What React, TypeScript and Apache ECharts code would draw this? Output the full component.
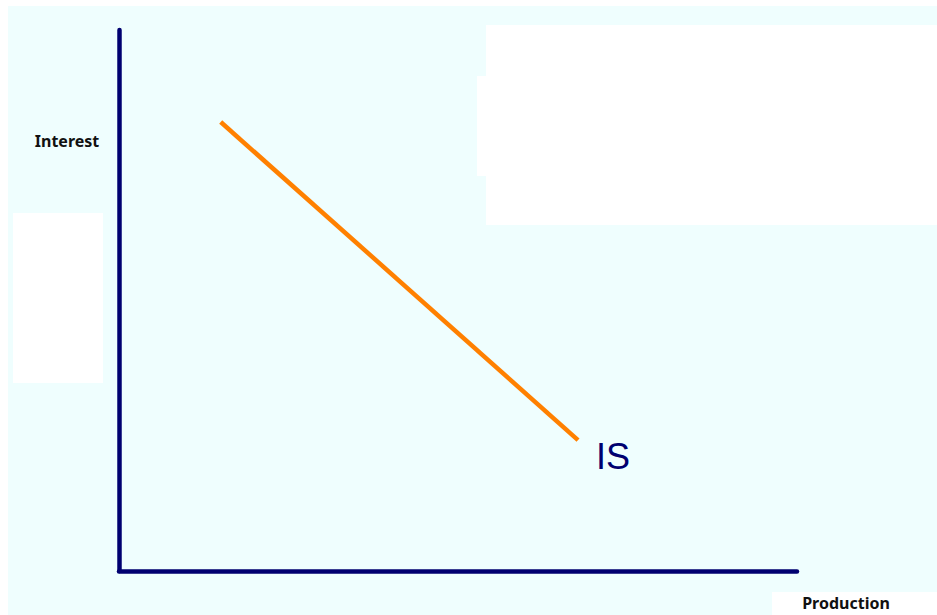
import React, { useEffect, useRef } from "react";
import * as echarts from "echarts";

// IS curve endpoints (Production, Interest) in axis units
const isProduction = [15, 67.7];
const isInterest = [83, 24.2];
const curveLabel = "IS";
const xAxisTitle = "Production";
const yAxisTitle = "Interest";

export default function App() {
  const ref = useRef<HTMLDivElement>(null);
  useEffect(() => {
    document.body.style.margin = "0";
    if (!ref.current) return;
    const chart = echarts.init(ref.current, null, { renderer: "svg" });
    const navy = "#000070";
    const orange = "#FF8000";
    const cyan = "#EFFEFE";
    chart.setOption({
      animation: false,
      backgroundColor: "#ffffff",
      grid: { left: 119, right: 140, top: 30, bottom: 44 },
      xAxis: {
        type: "value",
        min: 0,
        max: 100,
        axisLine: { show: true, lineStyle: { color: navy, width: 4.5 } },
        axisTick: { show: false },
        axisLabel: { show: false },
        splitLine: { show: false },
      },
      yAxis: {
        type: "value",
        min: 0,
        max: 100,
        axisLine: { show: true, lineStyle: { color: navy, width: 4.5 } },
        axisTick: { show: false },
        axisLabel: { show: false },
        splitLine: { show: false },
      },
      graphic: [
        { type: "rect", z: -10, silent: true, shape: { x: 8, y: 6, width: 929, height: 609 }, style: { fill: cyan } },
        { type: "rect", z: -9, silent: true, shape: { x: 486, y: 25, width: 451, height: 200 }, style: { fill: "#ffffff" } },
        { type: "rect", z: -9, silent: true, shape: { x: 477, y: 76, width: 20, height: 100 }, style: { fill: "#ffffff" } },
        { type: "rect", z: -9, silent: true, shape: { x: 13, y: 213, width: 90, height: 170 }, style: { fill: "#ffffff" } },
        { type: "rect", z: -9, silent: true, shape: { x: 772, y: 592, width: 165, height: 23 }, style: { fill: "#ffffff" } },
        {
          type: "text",
          z: 10,
          x: 67,
          y: 141,
          style: {
            text: yAxisTitle,
            fontFamily: "Noto Sans",
            fontWeight: "bold",
            fontSize: 16,
            fill: "#111111",
            align: "center",
            verticalAlign: "middle",
          },
        },
        {
          type: "text",
          z: 10,
          x: 846,
          y: 603,
          style: {
            text: xAxisTitle,
            fontFamily: "Noto Sans",
            fontWeight: "bold",
            fontSize: 16,
            fill: "#111111",
            align: "center",
            verticalAlign: "middle",
          },
        },
      ],
      series: [
        {
          type: "line",
          data: isProduction.map((x, i) => [x, isInterest[i]]),
          symbol: "none",
          lineStyle: { color: orange, width: 4.5 },
          endLabel: {
            show: true,
            formatter: curveLabel,
            fontFamily: "Liberation Sans",
            fontSize: 36,
            color: navy,
            offset: [10, 16],
          },
        },
      ],
    });
    return () => chart.dispose();
  }, []);
  return <div ref={ref} style={{ width: 937, height: 615 }} />;
}
